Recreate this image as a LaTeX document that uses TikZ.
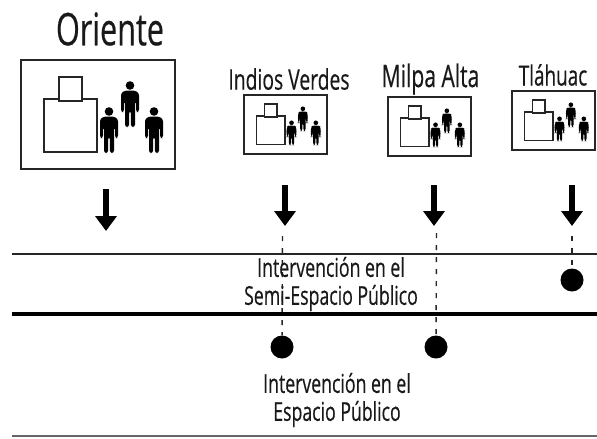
\documentclass[tikz,border=0pt]{standalone}
\usepackage{fontspec}
\setmainfont[FakeStretch=0.68,FakeBold=0.35]{Open Sans}
\usetikzlibrary{arrows.meta}
\tikzset{
  frame/.style={draw=black!85,line width=1.7pt,fill=white},
  bldg/.style={draw=black!85,line width=1.4pt,fill=white},
  figure/.style={fill=black,draw=none},
  label/.style={inner sep=0pt,align=center,text=black!90},
  bigarrow/.style={line width=5.5pt,-{Triangle[width=21pt,length=15pt]}},
  guide/.style={draw=black!85,line width=1.4pt,dash pattern=on 5pt off 7pt},
  dotmark/.style={circle,fill=black,minimum size=23pt,inner sep=0pt},
  person/.pic={
    \fill[figure] (0,4.5) circle (4.3);
    \fill[figure,rounded corners=2.5]
      (-9,12) -- (-5,9.5) -- (5,9.5) -- (9,12) -- (9,31) -- (6,31) -- (6,20) -- (5,20)
      -- (5,46) -- (0.9,46) -- (0.9,30) -- (-0.9,30) -- (-0.9,46) -- (-5,46) -- (-5,20) -- (-6,20)
      -- (-6,31) -- (-9,31) -- cycle;
  },
  station/.pic={
    \draw[frame] (0,0) rectangle (154,109);
    \draw[bldg] (23,39) rectangle (76,92);
    \draw[bldg] (38,17) rectangle (61,41);
    \pic at (88,47) {person};
    \pic at (109,21) {person};
    \pic at (133,47) {person};
  }
}
\begin{document}
\begin{tikzpicture}[x=1pt,y=-1pt,font=\fontsize{26}{30}\selectfont]
\useasboundingbox (0,0) rectangle (597,439);
\fill[white] (0,0) rectangle (597,439);
% stations
\pic at (21,60) {station};
\begin{scope}[shift={(244,95)},x=0.54pt,y=-0.54pt]\pic[x=0.54pt,y=-0.54pt] {station};\end{scope}
\begin{scope}[shift={(388,97)},x=0.54pt,y=-0.54pt]\pic[x=0.54pt,y=-0.54pt] {station};\end{scope}
\begin{scope}[shift={(512,91)},x=0.54pt,y=-0.54pt]\pic[x=0.54pt,y=-0.54pt] {station};\end{scope}
% names
\node[label,font=\fontsize{45}{50}\selectfont] (oriente) at (110,29) {Oriente};
\node[label,font=\fontsize{28.4}{32}\selectfont] (indios) at (289,79) {Indios Verdes};
\node[label,font=\fontsize{31}{35}\selectfont] (milpa) at (430.5,79) {Milpa Alta};
\node[label,font=\fontsize{27.8}{32}\selectfont] (tlahuac) at (553,75) {Tláhuac};
% level lines
\coordinate (l1a) at (12,254); \coordinate (l1b) at (597,254);
\coordinate (l2a) at (12,314); \coordinate (l2b) at (597,314);
\coordinate (l3a) at (12,436); \coordinate (l3b) at (597,436);
% guides
\coordinate (g1) at (282.5,236); \coordinate (g2) at (436.5,233); \coordinate (g3) at (572,236);
\node[dotmark] (d1) at (282,347) {};
\node[dotmark] (d2) at (436,347) {};
\node[dotmark] (d3) at (572,280) {};
\draw[guide] (g1) -- (d1);
\draw[guide] (g2) -- (d2);
\draw[guide] (g3) -- (d3);
\draw[draw=black!85,line width=1.3pt] (l1a) -- (l1b);
\draw[draw=black,line width=4pt] (l2a) -- (l2b);
\draw[draw=black!60,line width=1.3pt] (l3a) -- (l3b);
% arrows
\coordinate (a1s) at (106,189); \coordinate (a1e) at (106,231);
\coordinate (a2s) at (285,185); \coordinate (a2e) at (285,226);
\coordinate (a3s) at (434,185); \coordinate (a3e) at (434,226);
\coordinate (a4s) at (572,185); \coordinate (a4e) at (572,226);
\draw[bigarrow] (a1s) -- (a1e);
\draw[bigarrow] (a2s) -- (a2e);
\draw[bigarrow] (a3s) -- (a3e);
\draw[bigarrow] (a4s) -- (a4e);
% captions
\node[label] (semi) at (331,284) {Intervención en el\\[-2pt]Semi-Espacio Público};
\node[label] (esp) at (337,400) {Intervención en el\\[-2pt]Espacio Público};
\end{tikzpicture}
\end{document}
